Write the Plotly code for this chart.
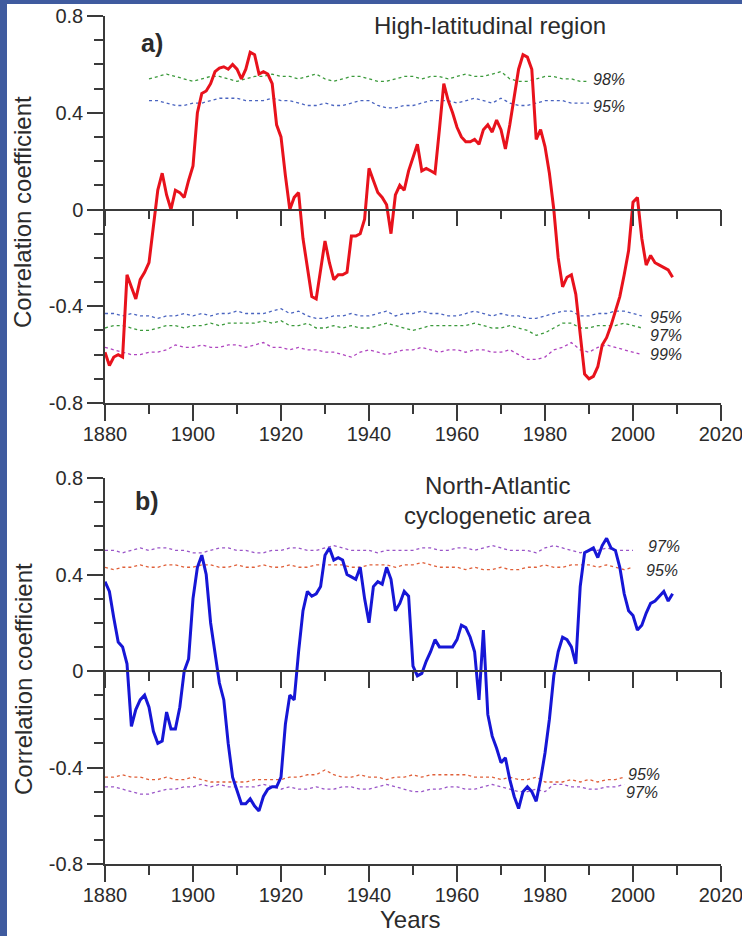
import plotly.graph_objects as go

W, H = 742, 936

# ---------------- data ----------------
years = list(range(1880, 2010))

corr_high_lat = [
    -0.59, -0.645, -0.61, -0.60, -0.61, -0.27, -0.32, -0.37, -0.29, -0.26,
    -0.22, -0.06, 0.08, 0.15, 0.06, 0.00, 0.08, 0.07, 0.05, 0.12,
    0.18, 0.40, 0.48, 0.49, 0.52, 0.57, 0.585, 0.59, 0.58, 0.60,
    0.58, 0.54, 0.58, 0.65, 0.64, 0.56, 0.57, 0.56, 0.52, 0.35,
    0.30, 0.14, 0.00, 0.05, 0.07, -0.12, -0.25, -0.36, -0.37, -0.25,
    -0.13, -0.22, -0.29, -0.27, -0.27, -0.26, -0.11, -0.11, -0.10, -0.04,
    0.17, 0.12, 0.07, 0.05, 0.02, -0.10, 0.06, 0.10, 0.08, 0.16,
    0.22, 0.27, 0.16, 0.17, 0.16, 0.15, 0.33, 0.52, 0.45, 0.40,
    0.34, 0.30, 0.28, 0.28, 0.29, 0.27, 0.33, 0.35, 0.32, 0.37,
    0.33, 0.25, 0.35, 0.46, 0.58, 0.64, 0.63, 0.58, 0.29, 0.33,
    0.26, 0.15, 0.00, -0.20, -0.32, -0.28, -0.27, -0.35, -0.52, -0.68,
    -0.70, -0.69, -0.65, -0.56, -0.53, -0.48, -0.42, -0.36, -0.27, -0.17,
    0.03, 0.05, -0.12, -0.23, -0.19, -0.22, -0.23, -0.24, -0.25, -0.28,
]

corr_north_atl = [
    0.37, 0.33, 0.22, 0.12, 0.10, 0.03, -0.23, -0.16, -0.12, -0.10,
    -0.15, -0.25, -0.30, -0.29, -0.17, -0.24, -0.24, -0.15, 0.00, 0.05,
    0.30, 0.43, 0.48, 0.40, 0.20, 0.08, -0.05, -0.12, -0.30, -0.44,
    -0.50, -0.55, -0.55, -0.53, -0.56, -0.58, -0.52, -0.49, -0.48, -0.48,
    -0.44, -0.22, -0.10, -0.12, 0.08, 0.25, 0.33, 0.31, 0.32, 0.35,
    0.48, 0.51, 0.46, 0.47, 0.46, 0.40, 0.39, 0.38, 0.43, 0.30,
    0.20, 0.35, 0.37, 0.36, 0.43, 0.38, 0.25, 0.28, 0.33, 0.31,
    0.02, -0.02, -0.01, 0.04, 0.08, 0.13, 0.10, 0.10, 0.10, 0.10,
    0.13, 0.19, 0.18, 0.14, 0.08, -0.12, 0.17, -0.18, -0.27, -0.32,
    -0.38, -0.36, -0.45, -0.52, -0.57, -0.50, -0.48, -0.50, -0.54, -0.45,
    -0.34, -0.20, -0.02, 0.08, 0.14, 0.13, 0.10, 0.03, 0.35, 0.49,
    0.50, 0.51, 0.47, 0.52, 0.55, 0.51, 0.50, 0.43, 0.32, 0.25,
    0.23, 0.17, 0.19, 0.24, 0.28, 0.29, 0.31, 0.33, 0.29, 0.32,
]

# significance levels (every 2 years)
a_top_start = 1890
a_98_top = [0.54, 0.55, 0.56, 0.55, 0.54, 0.53, 0.54, 0.55, 0.55, 0.54,
            0.53, 0.54, 0.55, 0.55, 0.56, 0.55, 0.55, 0.54, 0.55, 0.56,
            0.54, 0.53, 0.54, 0.55, 0.55, 0.54, 0.53, 0.53, 0.54, 0.55,
            0.55, 0.54, 0.55, 0.55, 0.54, 0.55, 0.56, 0.55, 0.55, 0.56,
            0.57, 0.54, 0.53, 0.53, 0.54, 0.55, 0.55, 0.54, 0.54, 0.53, 0.53]
a_95_top = [0.45, 0.45, 0.44, 0.43, 0.43, 0.44, 0.44, 0.45, 0.46, 0.46,
            0.46, 0.45, 0.45, 0.45, 0.46, 0.45, 0.45, 0.44, 0.43, 0.43,
            0.44, 0.43, 0.43, 0.44, 0.45, 0.45, 0.43, 0.42, 0.42, 0.43,
            0.43, 0.44, 0.45, 0.45, 0.45, 0.44, 0.45, 0.46, 0.45, 0.44,
            0.46, 0.44, 0.43, 0.43, 0.44, 0.45, 0.45, 0.45, 0.44, 0.44, 0.44]

a_bot_start = 1880
a_95_bot = [-0.43, -0.43, -0.44, -0.43, -0.44, -0.44, -0.45, -0.44, -0.44, -0.43,
            -0.44, -0.43, -0.44, -0.43, -0.43, -0.42, -0.43, -0.43, -0.43, -0.42,
            -0.41, -0.43, -0.42, -0.44, -0.45, -0.45, -0.44, -0.44, -0.43, -0.44,
            -0.44, -0.43, -0.42, -0.44, -0.43, -0.43, -0.42, -0.43, -0.43, -0.44,
            -0.44, -0.43, -0.42, -0.43, -0.44, -0.43, -0.44, -0.44, -0.45, -0.45,
            -0.44, -0.43, -0.42, -0.42, -0.44, -0.44, -0.43, -0.43, -0.42, -0.42,
            -0.43, -0.44]
a_97_bot = [-0.49, -0.48, -0.48, -0.49, -0.50, -0.50, -0.49, -0.48, -0.48, -0.49,
            -0.48, -0.48, -0.47, -0.48, -0.47, -0.47, -0.47, -0.47, -0.46, -0.47,
            -0.46, -0.48, -0.48, -0.47, -0.49, -0.49, -0.48, -0.49, -0.48, -0.49,
            -0.49, -0.48, -0.47, -0.48, -0.49, -0.50, -0.49, -0.48, -0.48, -0.48,
            -0.48, -0.48, -0.47, -0.48, -0.49, -0.49, -0.48, -0.49, -0.50, -0.52,
            -0.51, -0.49, -0.47, -0.47, -0.49, -0.49, -0.48, -0.48, -0.48, -0.47,
            -0.48, -0.49]
a_99_bot = [-0.57, -0.58, -0.59, -0.60, -0.60, -0.59, -0.59, -0.58, -0.56, -0.57,
            -0.57, -0.56, -0.57, -0.57, -0.56, -0.56, -0.57, -0.56, -0.55, -0.57,
            -0.57, -0.58, -0.57, -0.58, -0.58, -0.59, -0.59, -0.60, -0.61, -0.59,
            -0.58, -0.59, -0.60, -0.59, -0.58, -0.58, -0.57, -0.58, -0.59, -0.58,
            -0.58, -0.59, -0.58, -0.58, -0.59, -0.59, -0.58, -0.60, -0.62, -0.62,
            -0.61, -0.58, -0.57, -0.55, -0.58, -0.59, -0.57, -0.56, -0.57, -0.58,
            -0.59, -0.60]

b_start = 1880
b_97_top = [0.50, 0.50, 0.49, 0.50, 0.51, 0.50, 0.51, 0.51, 0.50, 0.50,
            0.49, 0.49, 0.50, 0.51, 0.51, 0.50, 0.50, 0.49, 0.49, 0.50,
            0.50, 0.51, 0.51, 0.50, 0.50, 0.51, 0.52, 0.51, 0.50, 0.50,
            0.50, 0.49, 0.50, 0.50, 0.50, 0.50, 0.51, 0.51, 0.50, 0.50,
            0.51, 0.51, 0.50, 0.51, 0.52, 0.51, 0.50, 0.50, 0.50, 0.49,
            0.51, 0.52, 0.51, 0.50, 0.49, 0.50, 0.50, 0.51, 0.50, 0.50, 0.50]
b_95_top = [0.43, 0.42, 0.43, 0.43, 0.44, 0.43, 0.43, 0.44, 0.44, 0.43,
            0.43, 0.44, 0.44, 0.43, 0.43, 0.44, 0.43, 0.43, 0.44, 0.43,
            0.43, 0.44, 0.43, 0.43, 0.44, 0.44, 0.44, 0.44, 0.43, 0.43,
            0.44, 0.44, 0.44, 0.43, 0.44, 0.44, 0.45, 0.44, 0.43, 0.43,
            0.43, 0.42, 0.43, 0.42, 0.42, 0.43, 0.42, 0.42, 0.43, 0.43,
            0.44, 0.43, 0.43, 0.44, 0.44, 0.44, 0.43, 0.44, 0.43, 0.42, 0.43]
b_95_bot = [-0.44, -0.44, -0.43, -0.44, -0.44, -0.45, -0.45, -0.44, -0.45, -0.45,
            -0.44, -0.45, -0.46, -0.46, -0.46, -0.46, -0.46, -0.45, -0.45, -0.45,
            -0.45, -0.44, -0.44, -0.43, -0.43, -0.41, -0.43, -0.44, -0.44, -0.43,
            -0.44, -0.44, -0.45, -0.44, -0.44, -0.43, -0.44, -0.43, -0.43, -0.43,
            -0.43, -0.43, -0.44, -0.44, -0.44, -0.45, -0.44, -0.45, -0.45, -0.44,
            -0.46, -0.46, -0.46, -0.45, -0.46, -0.45, -0.46, -0.45, -0.45, -0.44]
b_97_bot = [-0.48, -0.48, -0.49, -0.50, -0.51, -0.51, -0.50, -0.49, -0.49, -0.48,
            -0.48, -0.47, -0.48, -0.47, -0.48, -0.48, -0.48, -0.48, -0.47, -0.48,
            -0.49, -0.48, -0.49, -0.49, -0.48, -0.49, -0.49, -0.48, -0.48, -0.49,
            -0.49, -0.48, -0.47, -0.48, -0.49, -0.50, -0.50, -0.49, -0.49, -0.48,
            -0.48, -0.49, -0.49, -0.48, -0.47, -0.48, -0.49, -0.50, -0.50, -0.49,
            -0.50, -0.47, -0.47, -0.48, -0.48, -0.49, -0.49, -0.48, -0.48, -0.47]

y_tickvals = [-0.8, -0.4, 0, 0.4, 0.8]
y_ticktext = ["-0.8", "-0.4", "0", "0.4", "0.8"]
x_tickvals = [1880, 1900, 1920, 1940, 1960, 1980, 2000, 2020]


def yrs(start, vals):
    return [start + 2 * i for i in range(len(vals))]


# ---------------- figure ----------------
FONT = "Liberation Sans, Arial, sans-serif"
TXT = "#2b2b2b"
AX = "#3a3a3a"

GREEN = "#3c9a3c"
BLUEDOT = "#4a64c0"
MAG = "#b045c0"
PURP = "#9a55c8"
ORNG = "#e0603a"

fig = go.Figure()


def dotted(x, y, color, xa, ya):
    fig.add_trace(go.Scatter(x=x, y=y, mode="lines", xaxis=xa, yaxis=ya,
                             line=dict(color=color, width=1.3, dash="dot"),
                             hoverinfo="skip", showlegend=False))


# panel a significance lines
dotted(yrs(a_top_start, a_98_top), a_98_top, GREEN, "x", "y")
dotted(yrs(a_top_start, a_95_top), a_95_top, BLUEDOT, "x", "y")
dotted(yrs(a_bot_start, a_95_bot), a_95_bot, BLUEDOT, "x", "y")
dotted(yrs(a_bot_start, a_97_bot), a_97_bot, GREEN, "x", "y")
dotted(yrs(a_bot_start, a_99_bot), a_99_bot, MAG, "x", "y")
fig.add_trace(go.Scatter(x=years, y=corr_high_lat, mode="lines", xaxis="x", yaxis="y",
                         line=dict(color="#e8121c", width=3), showlegend=False))

# panel b significance lines
dotted(yrs(b_start, b_97_top), b_97_top, PURP, "x2", "y2")
dotted(yrs(b_start, b_95_top), b_95_top, ORNG, "x2", "y2")
dotted(yrs(b_start, b_95_bot), b_95_bot, ORNG, "x2", "y2")
dotted(yrs(b_start, b_97_bot), b_97_bot, PURP, "x2", "y2")
fig.add_trace(go.Scatter(x=years, y=corr_north_atl, mode="lines", xaxis="x2", yaxis="y2",
                         line=dict(color="#1616d6", width=3), showlegend=False))

# invisible traces to activate the zero-line axes
fig.add_trace(go.Scatter(x=[None], y=[None], xaxis="x3", yaxis="y", showlegend=False))
fig.add_trace(go.Scatter(x=[None], y=[None], xaxis="x4", yaxis="y2", showlegend=False))

xdom = [105 / W, 721 / W]
ydom_a = [1 - 403 / H, 1 - 16 / H]
ydom_b = [1 - 864 / H, 1 - 478 / H]


def xaxis_cfg(anchor, labels=True, free_pos=None, overlay=None):
    d = dict(domain=xdom, range=[1880, 2020], tickvals=x_tickvals,
             showticklabels=labels, ticks="outside", ticklen=16, tickwidth=1.5,
             tickcolor=AX, showline=True, linecolor=AX, linewidth=1.5,
             showgrid=False, zeroline=False, ticklabeloverflow="allow",
             ticklabelstandoff=-4,
             tickfont=dict(family=FONT, size=20, color=TXT),
             minor=dict(dtick=10, tick0=1880, ticks="outside", ticklen=9,
                        tickwidth=1.5, tickcolor=AX, showgrid=False))
    if free_pos is not None:
        d.update(anchor="free", position=free_pos, overlaying=overlay)
    else:
        d.update(anchor=anchor)
    return d


def yaxis_cfg(dom, anchor):
    return dict(domain=dom, range=[-0.8, 0.8], anchor=anchor,
                tickvals=y_tickvals, ticktext=y_ticktext,
                ticks="outside", ticklen=16, tickwidth=1.5, tickcolor=AX,
                showline=True, linecolor=AX, linewidth=1.5,
                showgrid=False, zeroline=False, ticklabeloverflow="allow",
                tickfont=dict(family=FONT, size=20, color=TXT),
                minor=dict(dtick=0.1, tick0=0, ticks="outside", ticklen=9,
                           tickwidth=1.5, tickcolor=AX, showgrid=False))


fig.update_layout(
    width=W, height=H,
    margin=dict(l=0, r=0, t=0, b=0, autoexpand=False),
    paper_bgcolor="white", plot_bgcolor="white",
    showlegend=False,
    xaxis=xaxis_cfg("y"),
    yaxis=yaxis_cfg(ydom_a, "x"),
    xaxis2=xaxis_cfg("y2"),
    yaxis2=yaxis_cfg(ydom_b, "x2"),
    xaxis3=xaxis_cfg(None, labels=False, free_pos=(ydom_a[0] + ydom_a[1]) / 2, overlay="x"),
    xaxis4=xaxis_cfg(None, labels=False, free_pos=(ydom_b[0] + ydom_b[1]) / 2, overlay="x2"),
)

# blue frame strips (left & top)
FRAME = "#3f5b9f"
fig.add_shape(type="rect", xref="paper", yref="paper", x0=0, x1=7 / W, y0=0, y1=1,
              fillcolor=FRAME, line=dict(width=0), layer="below")
fig.add_shape(type="rect", xref="paper", yref="paper", x0=0, x1=1, y0=1 - 4 / H, y1=1,
              fillcolor=FRAME, line=dict(width=0), layer="below")

ann = []


def px_ann(text, x, y, size, bold=False, angle=0, italic=False, xanchor="center"):
    t = f"<b>{text}</b>" if bold else text
    t = f"<i>{t}</i>" if italic else t
    ann.append(dict(text=t, x=x / W, y=1 - y / H, xref="paper", yref="paper",
                    showarrow=False, textangle=angle, xanchor=xanchor, yanchor="middle",
                    font=dict(family=FONT, size=size, color=TXT)))


px_ann("High-latitudinal region", 490, 25, 24)
px_ann("a)", 152, 43, 25, bold=True)
px_ann("b)", 147, 501, 25, bold=True)
px_ann("North-Atlantic", 497, 485, 24)
px_ann("cyclogenetic area", 497, 515, 24)
px_ann("Correlation coefficient", 23, 212, 24, angle=-90)
px_ann("Correlation coefficient", 23, 679, 24, angle=-90)
px_ann("Years", 410, 919, 24)


def pct(text, x, y, xa, ya):
    ann.append(dict(text=f"<i>{text}</i>", x=x, y=y, xref=xa, yref=ya, showarrow=False,
                    xanchor="left", yanchor="middle",
                    font=dict(family=FONT, size=16, color=TXT)))


pct("98%", 1990.5, 0.537, "x", "y")
pct("95%", 1990.5, 0.425, "x", "y")
pct("95%", 2003.3, -0.445, "x", "y")
pct("97%", 2003.3, -0.52, "x", "y")
pct("99%", 2003.3, -0.60, "x", "y")
pct("97%", 2003.0, 0.515, "x2", "y2")
pct("95%", 2002.5, 0.415, "x2", "y2")
pct("95%", 1998.5, -0.43, "x2", "y2")
pct("97%", 1998.0, -0.505, "x2", "y2")

fig.update_layout(annotations=ann)

fig.write_html("out.html")
